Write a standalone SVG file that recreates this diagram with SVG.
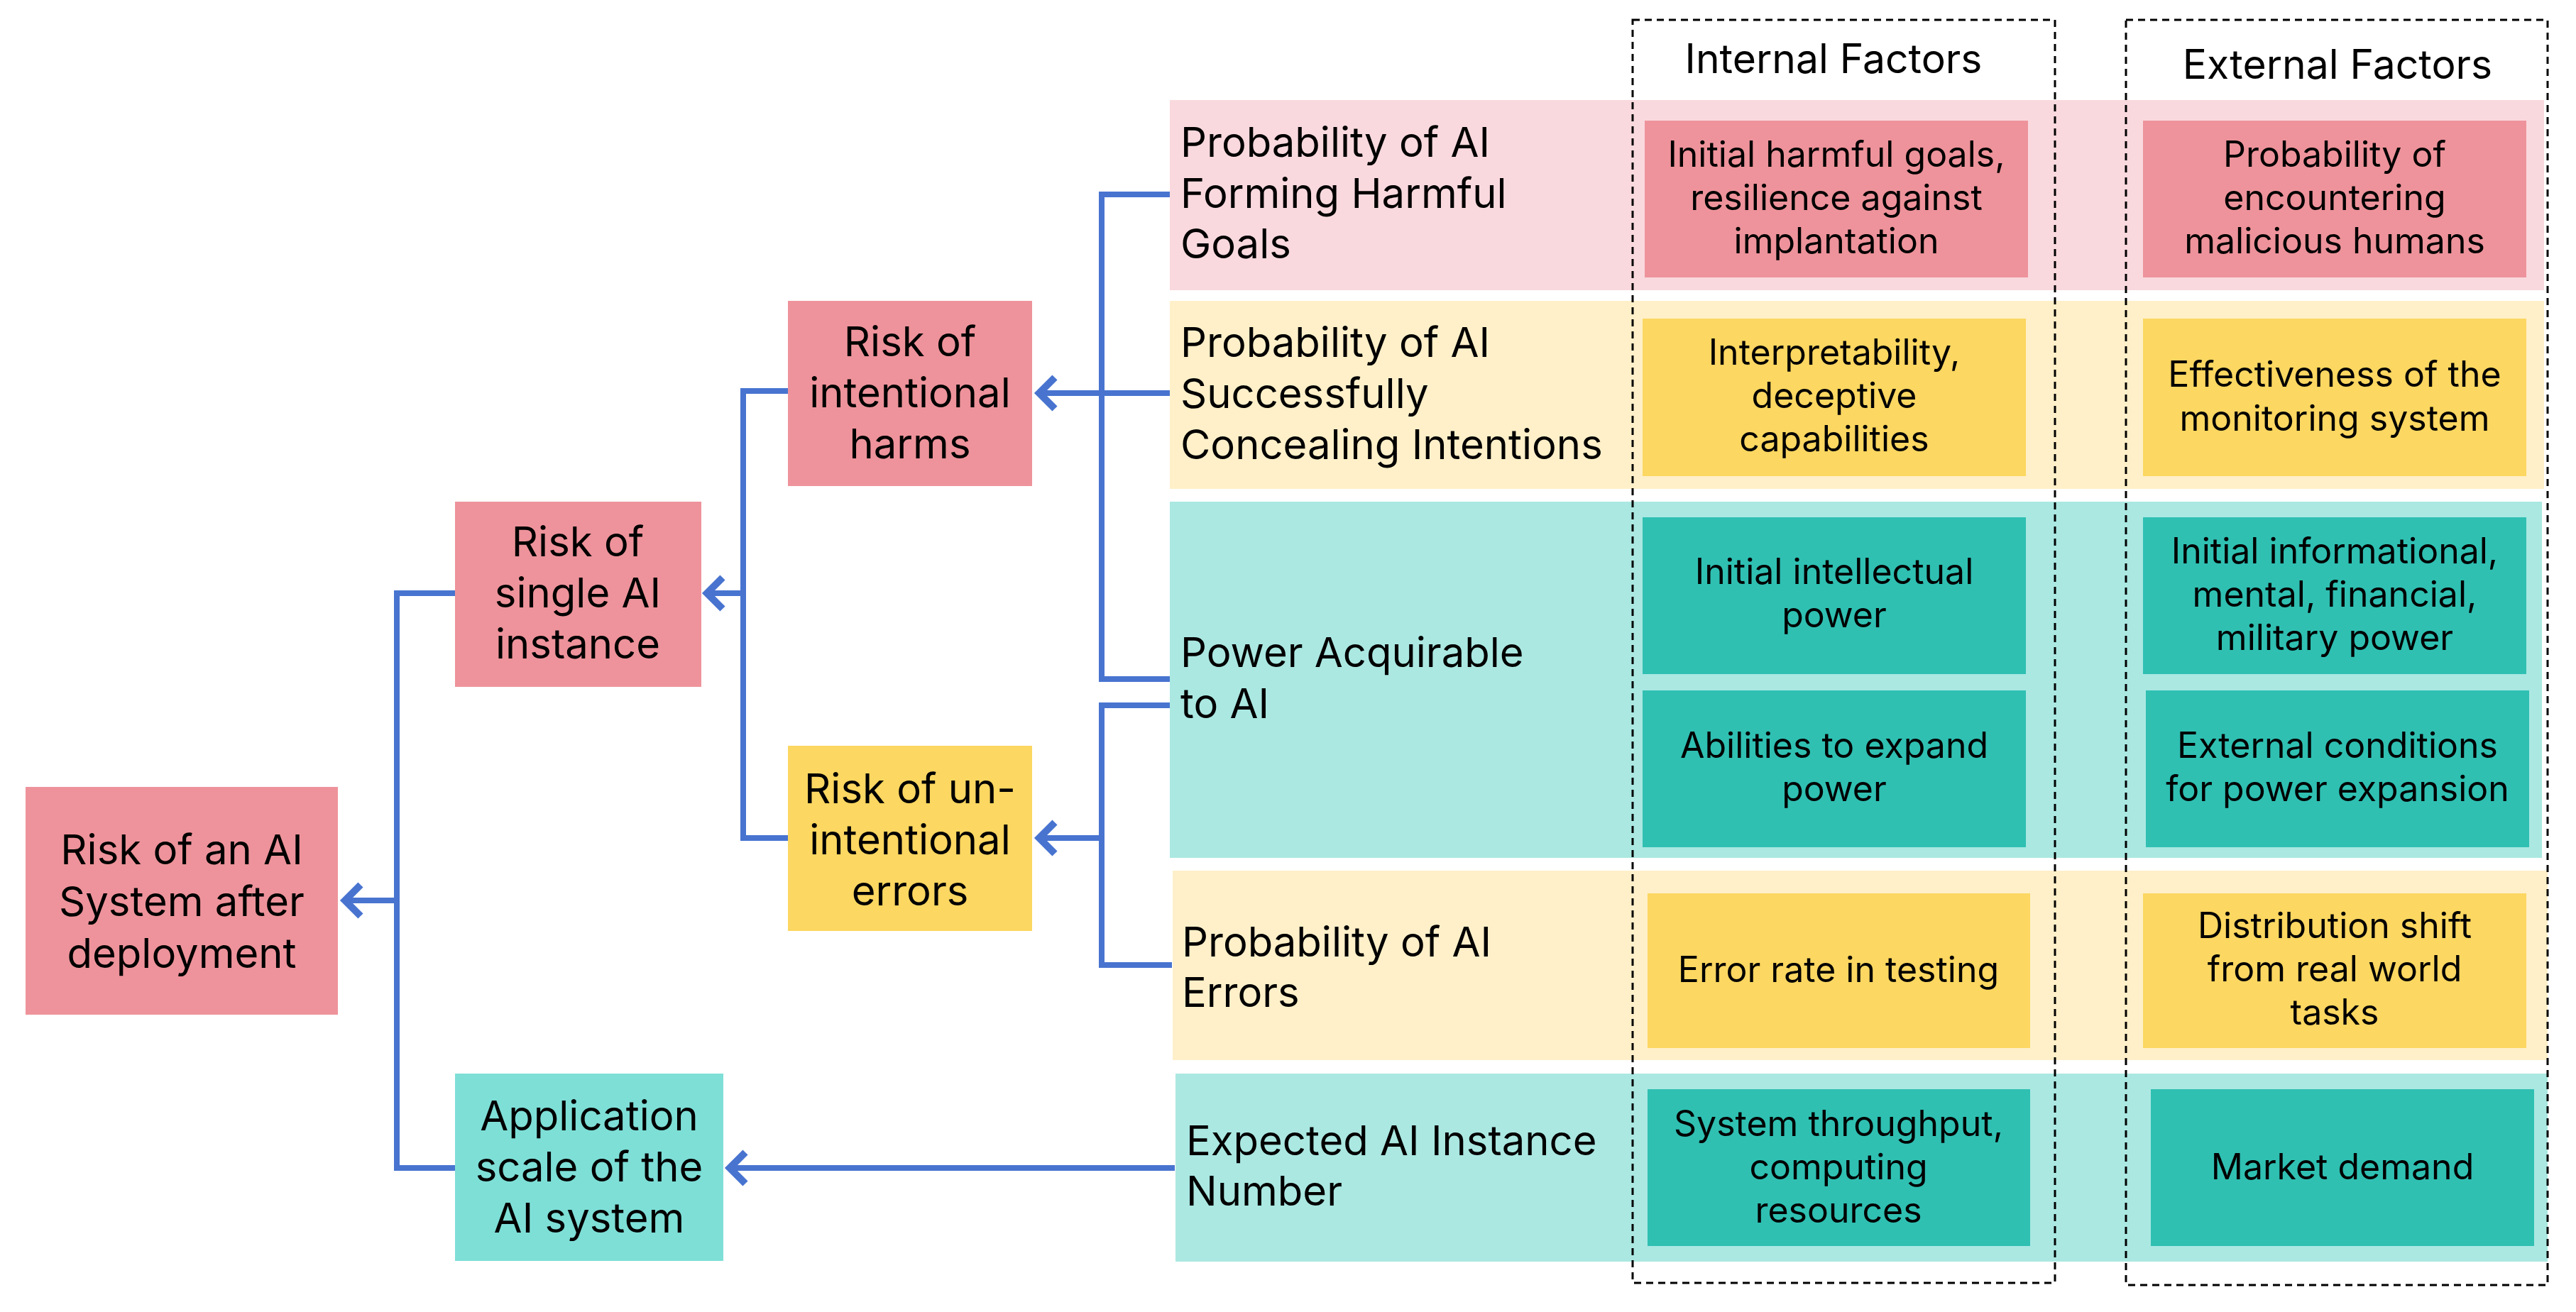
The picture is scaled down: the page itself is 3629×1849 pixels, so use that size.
<svg xmlns="http://www.w3.org/2000/svg" width="3629" height="1849" viewBox="0 0 3629 1849">
<style>
text{font-family:Inter,"Noto Sans","Liberation Sans",sans-serif;fill:#000}
.n{font-size:58px;text-anchor:middle}
.l{font-size:58px}
.f{font-size:50px;text-anchor:middle}
.h{font-size:57px;text-anchor:middle}
.pk{fill:#EE939B}.pkb{fill:#F9D9DE}
.ye{fill:#FCD761}.yeb{fill:#FFF0C9}
.te{fill:#2FC0B2}.teb{fill:#ABE8E2}.tem{fill:#7EDFD7}
.c{fill:none;stroke:#4874D0;stroke-width:8}
.d{fill:none;stroke:#000;stroke-width:3;stroke-dasharray:10 7}
</style>
<defs>
<marker id="arr" markerUnits="userSpaceOnUse" viewBox="-40 -40 60 80" refX="0" refY="0" markerWidth="60" markerHeight="80" orient="auto" overflow="visible">
<path d="M-22,-22 L0,0 L-22,22" fill="none" stroke="#4874D0" stroke-width="10"/>
</marker>
</defs>
<rect width="3629" height="1849" fill="#fff"/>

<g id="row1">
<rect class="pkb" x="1648" y="141" width="1936" height="268"/>
<text class="l" x="1663"><tspan x="1663" y="221">Probability of AI</tspan><tspan x="1663" y="293">Forming Harmful</tspan><tspan x="1663" y="364">Goals</tspan></text>
</g>
<g id="row2">
<rect class="yeb" x="1648" y="424" width="1936" height="265"/>
<text class="l" x="1663"><tspan x="1663" y="503">Probability of AI</tspan><tspan x="1663" y="575">Successfully</tspan><tspan x="1663" y="647">Concealing Intentions</tspan></text>
</g>
<g id="row3">
<rect class="teb" x="1648" y="707" width="1933" height="502"/>
<text class="l" x="1663"><tspan x="1663" y="940">Power Acquirable</tspan><tspan x="1663" y="1012">to AI</tspan></text>
</g>
<g id="row4">
<rect class="yeb" x="1652" y="1227" width="1937" height="267"/>
<text class="l" x="1665"><tspan x="1665" y="1348">Probability of AI</tspan><tspan x="1665" y="1419">Errors</tspan></text>
</g>
<g id="row5">
<rect class="teb" x="1656" y="1513" width="1933" height="265"/>
<text class="l" x="1671"><tspan x="1671" y="1628">Expected AI Instance</tspan><tspan x="1671" y="1699">Number</tspan></text>
</g>

<g id="f1i"><rect class="pk" x="2317" y="170" width="540" height="221"/>
<text class="f"><tspan x="2587" y="235">Initial harmful goals,</tspan><tspan x="2587" y="296">resilience against</tspan><tspan x="2587" y="357">implantation</tspan></text></g>
<g id="f1e"><rect class="pk" x="3019" y="170" width="540" height="221"/>
<text class="f"><tspan x="3289" y="235">Probability of</tspan><tspan x="3289" y="296">encountering</tspan><tspan x="3289" y="357">malicious humans</tspan></text></g>
<g id="f2i"><rect class="ye" x="2314" y="449" width="540" height="222"/>
<text class="f"><tspan x="2584" y="514">Interpretability,</tspan><tspan x="2584" y="575">deceptive</tspan><tspan x="2584" y="636">capabilities</tspan></text></g>
<g id="f2e"><rect class="ye" x="3019" y="449" width="540" height="222"/>
<text class="f"><tspan x="3289" y="545">Effectiveness of the</tspan><tspan x="3289" y="607">monitoring system</tspan></text></g>
<g id="f3ai"><rect class="te" x="2314" y="729" width="540" height="221"/>
<text class="f"><tspan x="2584" y="823">Initial intellectual</tspan><tspan x="2584" y="884">power</tspan></text></g>
<g id="f3ae"><rect class="te" x="3019" y="729" width="540" height="221"/>
<text class="f"><tspan x="3289" y="794">Initial informational,</tspan><tspan x="3289" y="855">mental, financial,</tspan><tspan x="3289" y="916">military power</tspan></text></g>
<g id="f3bi"><rect class="te" x="2314" y="973" width="540" height="221"/>
<text class="f"><tspan x="2584" y="1068">Abilities to expand</tspan><tspan x="2584" y="1129">power</tspan></text></g>
<g id="f3be"><rect class="te" x="3023" y="973" width="540" height="221"/>
<text class="f"><tspan x="3293" y="1068">External conditions</tspan><tspan x="3293" y="1129">for power expansion</tspan></text></g>
<g id="f4i"><rect class="ye" x="2321" y="1259" width="539" height="218"/>
<text class="f"><tspan x="2590" y="1384">Error rate in testing</tspan></text></g>
<g id="f4e"><rect class="ye" x="3019" y="1259" width="540" height="218"/>
<text class="f"><tspan x="3289" y="1322">Distribution shift</tspan><tspan x="3289" y="1383">from real world</tspan><tspan x="3289" y="1444">tasks</tspan></text></g>
<g id="f5i"><rect class="te" x="2321" y="1535" width="539" height="221"/>
<text class="f"><tspan x="2590" y="1601">System throughput,</tspan><tspan x="2590" y="1662">computing</tspan><tspan x="2590" y="1723">resources</tspan></text></g>
<g id="f5e"><rect class="te" x="3030" y="1535" width="540" height="221"/>
<text class="f"><tspan x="3300" y="1662">Market demand</tspan></text></g>

<g id="internal">
<rect class="d" x="2300" y="28" width="595" height="1780"/>
<text class="h" x="2583" y="103">Internal Factors</text>
</g>
<g id="external">
<rect class="d" x="2995" y="28" width="594" height="1783"/>
<text class="h" x="3293" y="111">External Factors</text>
</g>

<g id="n-system"><rect class="pk" x="36" y="1109" width="440" height="321"/>
<text class="n"><tspan x="256" y="1218">Risk of an AI</tspan><tspan x="256" y="1291">System after</tspan><tspan x="256" y="1364">deployment</tspan></text></g>
<g id="n-single"><rect class="pk" x="641" y="707" width="347" height="261"/>
<text class="n"><tspan x="814" y="784">Risk of</tspan><tspan x="814" y="856">single AI</tspan><tspan x="814" y="928">instance</tspan></text></g>
<g id="n-intent"><rect class="pk" x="1110" y="424" width="344" height="261"/>
<text class="n"><tspan x="1282" y="502">Risk of</tspan><tspan x="1282" y="574">intentional</tspan><tspan x="1282" y="646">harms</tspan></text></g>
<g id="n-unintent"><rect class="ye" x="1110" y="1051" width="344" height="261"/>
<text class="n"><tspan x="1282" y="1132">Risk of un-</tspan><tspan x="1282" y="1204">intentional</tspan><tspan x="1282" y="1276">errors</tspan></text></g>
<g id="n-scale"><rect class="tem" x="641" y="1513" width="378" height="264"/>
<text class="n"><tspan x="830" y="1593">Application</tspan><tspan x="830" y="1665">scale of the</tspan><tspan x="830" y="1737">AI system</tspan></text></g>

<g id="connectors">
<path class="c" d="M1648 274 H1552 V957 H1648"/>
<path class="c" d="M1648 554 H1464" marker-end="url(#arr)"/>
<path class="c" d="M1648 994 H1552 V1360 H1651"/>
<path class="c" d="M1552 1181 H1464" marker-end="url(#arr)"/>
<path class="c" d="M1110 551 H1047 V1181 H1110"/>
<path class="c" d="M1047 836 H996" marker-end="url(#arr)"/>
<path class="c" d="M641 836 H559 V1646 H641"/>
<path class="c" d="M559 1269 H486" marker-end="url(#arr)"/>
<path class="c" d="M1655 1646 H1028" marker-end="url(#arr)"/>
</g>
</svg>
